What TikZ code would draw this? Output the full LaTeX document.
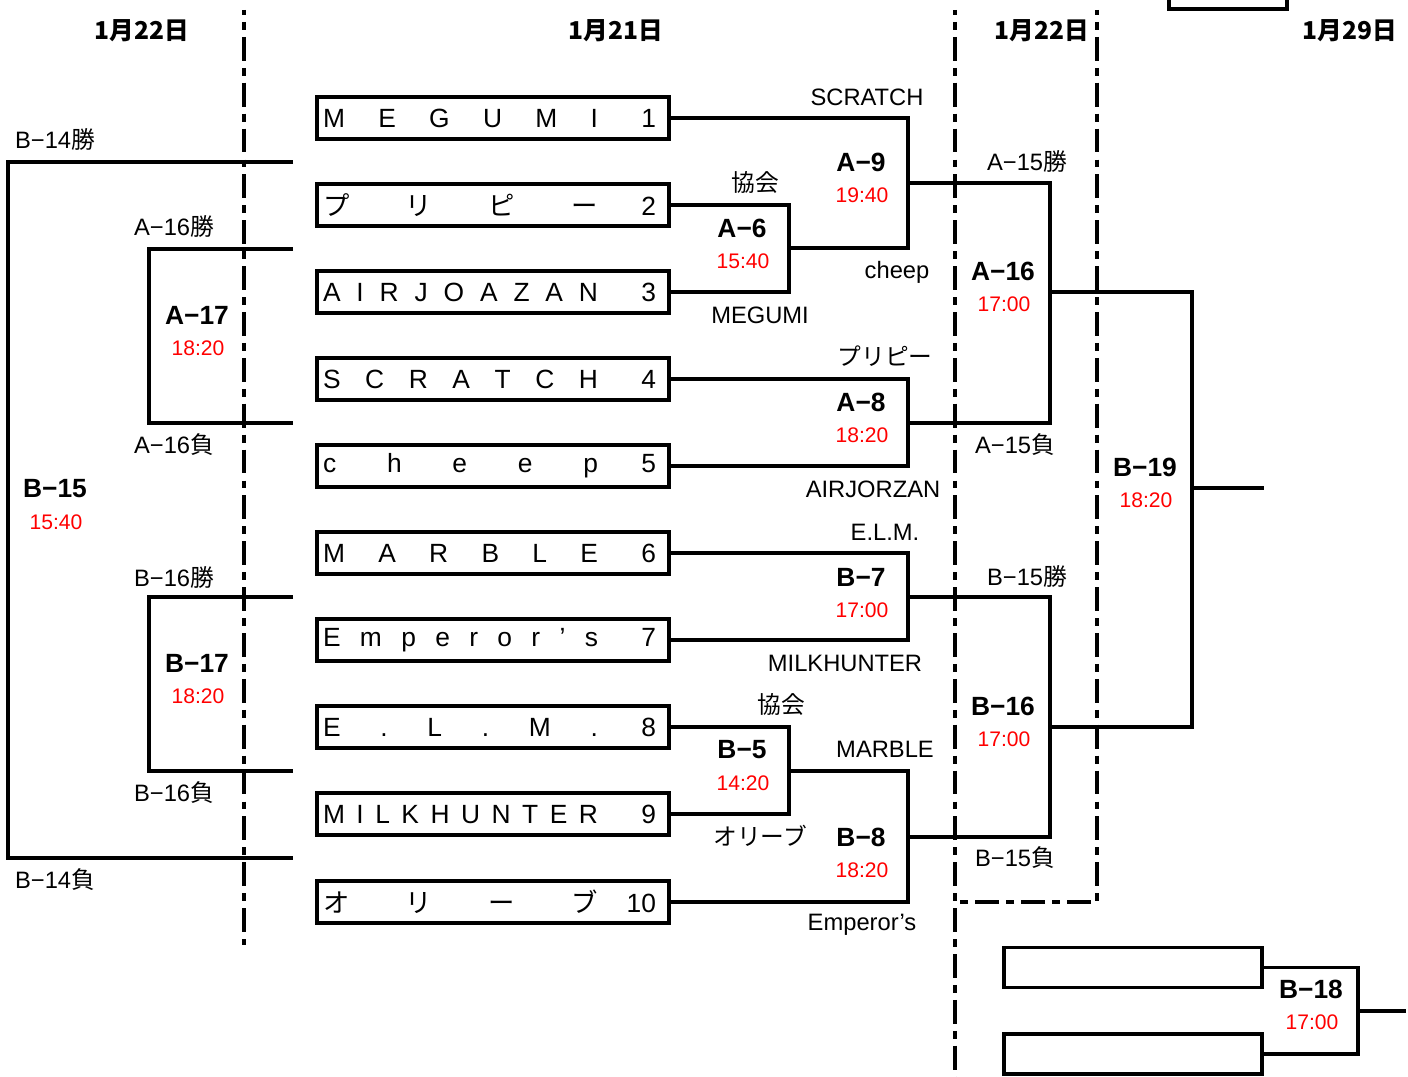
\documentclass[tikz,border=0pt]{standalone}
\usepackage{fontspec}
\usepackage{tikz}
\setmainfont{Liberation Sans}
\newfontfamily\jp{Noto Sans CJK JP}
\definecolor{TimeRed}{HTML}{FF0000}
\newcommand{\teamname}[2]{\makebox[6.8cm][s]{\makebox[5.5cm][s]{#1}\hfill #2\hspace{0.14cm}}}
\tikzset{
  teambox/.style={draw,line width=2.2pt,minimum width=7.04cm,
    minimum height=0.83cm,inner sep=0pt,font=\fontsize{15}{17}\selectfont},
  emptybox/.style={draw,line width=2.2pt,inner sep=0pt,
    minimum width=5.16cm,minimum height=0.8cm},
  bracket/.style={line width=1.8pt},
  daydiv/.style={line width=1.8pt,
    dash pattern=on 13.6pt off 4pt on 4.5pt off 4pt,dash phase=10.8pt},
  matchid/.style={font=\fontsize{15}{17}\selectfont\bfseries,inner sep=0pt},
  matchtime/.style={text=TimeRed,font=\fontsize{12}{14}\selectfont,inner sep=0pt},
  note/.style={font=\fontsize{13.5}{15}\selectfont,inner sep=0pt},
  daylabel/.style={font=\fontsize{14}{16}\selectfont\jp\bfseries,inner sep=0pt}
}

\begin{document}
\begin{tikzpicture}[x=0.02cm,y=-0.02cm]
\path[use as bounding box] (0,0) rectangle (1408,1077);
\clip (0,0) rectangle (1408,1077);

% day dividers
\draw[daydiv] (244,10) -- (244,945);
\draw[daydiv] (955,10) -- (955,1077);
\draw[daydiv] (1097,10) -- (1097,902) -- (955,902);

\node[daylabel] (day1) at (142,31) {1月22日};
\node[daylabel] (day2) at (616,31) {1月21日};
\node[daylabel] (day3) at (1042,31) {1月22日};
\node[daylabel] (day4) at (1350,31) {1月29日};

\node[emptybox,minimum width=2.36cm,minimum height=1cm,anchor=south]
      (topbox) at (1228,11) {};

% entry boxes
\foreach \i/\y/\lab in {
  1/118/{M\hfill E\hfill G\hfill U\hfill M\hfill I},
  2/205/{\jp プ\hfill リ\hfill ピ\hfill ー},
  3/292/{A\hfill I\hfill R\hfill J\hfill O\hfill A\hfill Z\hfill A\hfill N},
  4/379/{S\hfill C\hfill R\hfill A\hfill T\hfill C\hfill H},
  5/466/{c\hfill h\hfill e\hfill e\hfill p},
  6/553/{M\hfill A\hfill R\hfill B\hfill L\hfill E},
  7/640/{E\hfill m\hfill p\hfill e\hfill r\hfill o\hfill r\hfill ’\hfill s},
  8/727/{E\hfill .\hfill L\hfill .\hfill M\hfill .},
  9/814/{M\hfill I\hfill L\hfill K\hfill H\hfill U\hfill N\hfill T\hfill E\hfill R},
  10/902/{\jp オ\hfill リ\hfill ー\hfill ブ}} {
  \node[teambox] (t\i) at (493,\y) {\teamname{\lab}{\i}};
}

% joints of the brackets
\coordinate (A6) at (789,248);
\coordinate (A9) at (908,183);
\coordinate (A8) at (908,423);
\coordinate (A16) at (1050,292);
\coordinate (B7) at (908,597);
\coordinate (B5) at (789,771);
\coordinate (B8) at (908,837);
\coordinate (B16) at (1050,727);
\coordinate (B19) at (1192,488);
\coordinate (B19out) at (1264,488);

\draw[bracket] (t2.east) -| (A6) |- (t3.east);
\draw[bracket] (t1.east) -| (A9) |- (A6);
\draw[bracket] (t4.east) -| (A8) |- (t5.east);
\draw[bracket] (A9) -| (A16) |- (A8);
\draw[bracket] (t6.east) -| (B7) |- (t7.east);
\draw[bracket] (t8.east) -| (B5) |- (t9.east);
\draw[bracket] (B5) -| (B8) |- (t10.east);
\draw[bracket] (B7) -| (B16) |- (B8);
\draw[bracket] (A16) -| (B19) |- (B16);
\draw[bracket] (B19) -- (B19out);

% left side, 1/22
\coordinate (A17) at (149,336);
\coordinate (A17a) at (293,249);
\coordinate (A17b) at (293,423);
\coordinate (B17) at (149,684);
\coordinate (B17a) at (293,597);
\coordinate (B17b) at (293,771);
\coordinate (B15) at (8,510);
\coordinate (B15a) at (293,162);
\coordinate (B15b) at (293,858);
\draw[bracket] (A17a) -| (A17) |- (A17b);
\draw[bracket] (B17a) -| (B17) |- (B17b);
\draw[bracket] (B15a) -| (B15) |- (B15b);

% B-18
\node[emptybox] (e1) at (1133,967.5) {};
\node[emptybox] (e2) at (1133,1054) {};
\coordinate (B18) at (1358,1011);
\coordinate (B18out) at (1406,1011);
\draw[bracket] (e1.east) -| (B18) |- (e2.east);
\draw[bracket] (B18) -- (B18out);

% match numbers and times
\foreach \nm/\lab/\x/\y/\tm in {a17/A−17/197/315/18:20, b15/B−15/55/489/15:40,
    b17/B−17/197/663/18:20, a6/A−6/742/228/15:40, a9/A−9/861/162/19:40,
    a8/A−8/861/402/18:20, b7/B−7/861/577/17:00, b5/B−5/742/750/14:20,
    b8/B−8/861/837/18:20, a16/A−16/1003/271/17:00, b16/B−16/1003/706/17:00,
    b19/B−19/1145/467/18:20, b18/B−18/1311/989/17:00} {
  \node[matchid] (id-\nm) at (\x,\y) {\lab};
  \node[matchtime] (tm-\nm) at (\x+1,\y+33) {\tm};
}

% winners / losers
\node[note] (b14w) at (55,140) {B−14{\jp 勝}};
\node[note] (b14l) at (55,880) {B−14{\jp 負}};
\node[note] (a16w) at (174,227) {A−16{\jp 勝}};
\node[note] (a16l) at (174,445) {A−16{\jp 負}};
\node[note] (b16w) at (174,577) {B−16{\jp 勝}};
\node[note] (b16l) at (174,793) {B−16{\jp 負}};
\node[note] (a15w) at (1027,162) {A−15{\jp 勝}};
\node[note] (a15l) at (1015,445) {A−15{\jp 負}};
\node[note] (b15w) at (1027,576) {B−15{\jp 勝}};
\node[note] (b15l) at (1015,858) {B−15{\jp 負}};

% referees
\node[note] (r-a9a) at (867,97) {SCRATCH};
\node[note] (r-a9b) at (897,272) {cheep};
\node[note] (r-a6a) at (755,183) {\jp 協会};
\node[note] (r-a6b) at (760,315) {MEGUMI};
\node[note] (r-a8a) at (885,356) {\jp プリピー};
\node[note] (r-a8b) at (873,489) {AIRJORZAN};
\node[note] (r-b7a) at (885,532) {E.L.M.};
\node[note] (r-b7b) at (845,663) {MILKHUNTER};
\node[note] (r-b5a) at (781,705) {\jp 協会};
\node[note] (r-b5b) at (760,836) {\jp オリーブ};
\node[note] (r-b8a) at (885,749) {MARBLE};
\node[note] (r-b8b) at (862,925) {Emperor’s};
\end{tikzpicture}
\end{document}
